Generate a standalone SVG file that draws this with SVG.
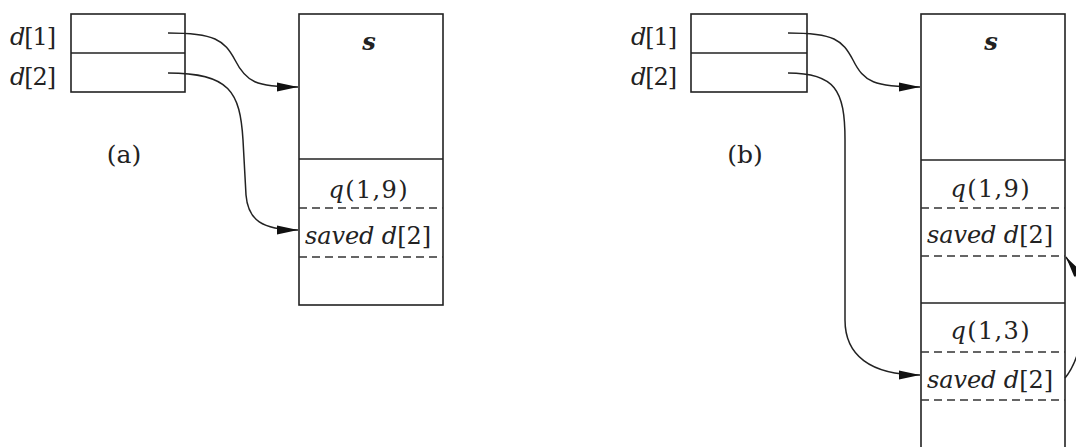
<svg xmlns="http://www.w3.org/2000/svg" width="1076" height="447" viewBox="0 0 1076 447">
<style>
.box{fill:none;stroke:#222;stroke-width:1.6}
.sep{stroke:#222;stroke-width:1.6}
.dash{stroke:#333;stroke-width:1.6;stroke-dasharray:8 5}
.conn{fill:none;stroke:#222;stroke-width:1.5}
text{font-family:"DejaVu Serif","Liberation Serif",serif;fill:#222}
.lbl{font-size:24px}
.cell{font-size:24px;text-anchor:middle}
.it{font-style:italic}
.cap{font-size:25px;text-anchor:middle}
</style>
<defs>
<marker id="ah" markerUnits="userSpaceOnUse" markerWidth="22" markerHeight="12" refX="21" refY="6" orient="auto">
<path d="M0,1.5 L21,6 L0,10.5 Z" fill="#111"/>
</marker>
</defs>
<rect width="1076" height="447" fill="#fff"/>

<!-- Panel (a) -->
<g id="a-display">
<rect class="box" x="71" y="14" width="114" height="78"/>
<line class="sep" x1="71" y1="53" x2="185" y2="53"/>
<text class="lbl" x="10" y="45" textLength="46"><tspan class="it">d</tspan>[1]</text>
<text class="lbl" x="10" y="85" textLength="46"><tspan class="it">d</tspan>[2]</text>
</g>
<g id="a-caption"><text class="cap" x="124" y="163">(a)</text></g>
<g id="a-stack">
<rect class="box" x="299" y="14" width="144" height="291"/>
<line class="sep" x1="299" y1="159" x2="443" y2="159"/>
<line class="dash" x1="299" y1="208" x2="443" y2="208"/>
<line class="dash" x1="299" y1="257" x2="443" y2="257"/>
<text class="cell it" x="369" y="50" font-size="26" font-weight="bold">s</text>
<text class="cell" x="368" y="198" textLength="79"><tspan class="it">q</tspan>(1,9)</text>
<text class="cell" x="368" y="244" textLength="126"><tspan class="it">saved d</tspan>[2]</text>
</g>

<!-- Panel (b) -->
<g id="b-display">
<rect class="box" x="691" y="14" width="116" height="78"/>
<line class="sep" x1="691" y1="53" x2="807" y2="53"/>
<text class="lbl" x="631" y="45" textLength="46"><tspan class="it">d</tspan>[1]</text>
<text class="lbl" x="631" y="85" textLength="46"><tspan class="it">d</tspan>[2]</text>
</g>
<g id="b-caption"><text class="cap" x="745" y="163">(b)</text></g>
<g id="b-stack">
<rect class="box" x="921" y="14" width="144" height="460"/>
<line class="sep" x1="921" y1="160" x2="1065" y2="160"/>
<line class="dash" x1="921" y1="208" x2="1065" y2="208"/>
<line class="dash" x1="921" y1="256" x2="1065" y2="256"/>
<line class="sep" x1="921" y1="303" x2="1065" y2="303"/>
<line class="dash" x1="921" y1="352" x2="1065" y2="352"/>
<line class="dash" x1="921" y1="400" x2="1065" y2="400"/>
<text class="cell it" x="991" y="50" font-size="26" font-weight="bold">s</text>
<text class="cell" x="990" y="197" textLength="79"><tspan class="it">q</tspan>(1,9)</text>
<text class="cell" x="990" y="243" textLength="126"><tspan class="it">saved d</tspan>[2]</text>
<text class="cell" x="990" y="339" textLength="79"><tspan class="it">q</tspan>(1,3)</text>
<text class="cell" x="990" y="388" textLength="126"><tspan class="it">saved d</tspan>[2]</text>
</g>

<g id="connectors">
<path class="conn" marker-end="url(#ah)" d="M168,33 C215,33 224,40 235,60 C246,82 256,87 298,87"/>
<path class="conn" marker-end="url(#ah)" d="M168,73 C230,73 240,92 243,140 L246,195 C248,220 262,230 298,230"/>
<path class="conn" marker-end="url(#ah)" d="M788,33 C835,33 842,40 853,60 C864,82 874,87 920,87"/>
<path class="conn" marker-end="url(#ah)" d="M788,73 C835,73 845,90 845,140 L845,320 C845,355 870,375 920,375"/>
<path class="conn" marker-end="url(#ah)" d="M1065,378 C1078,362 1084,335 1084,310 C1084,292 1075,270 1066,257"/>
</g>
</svg>
